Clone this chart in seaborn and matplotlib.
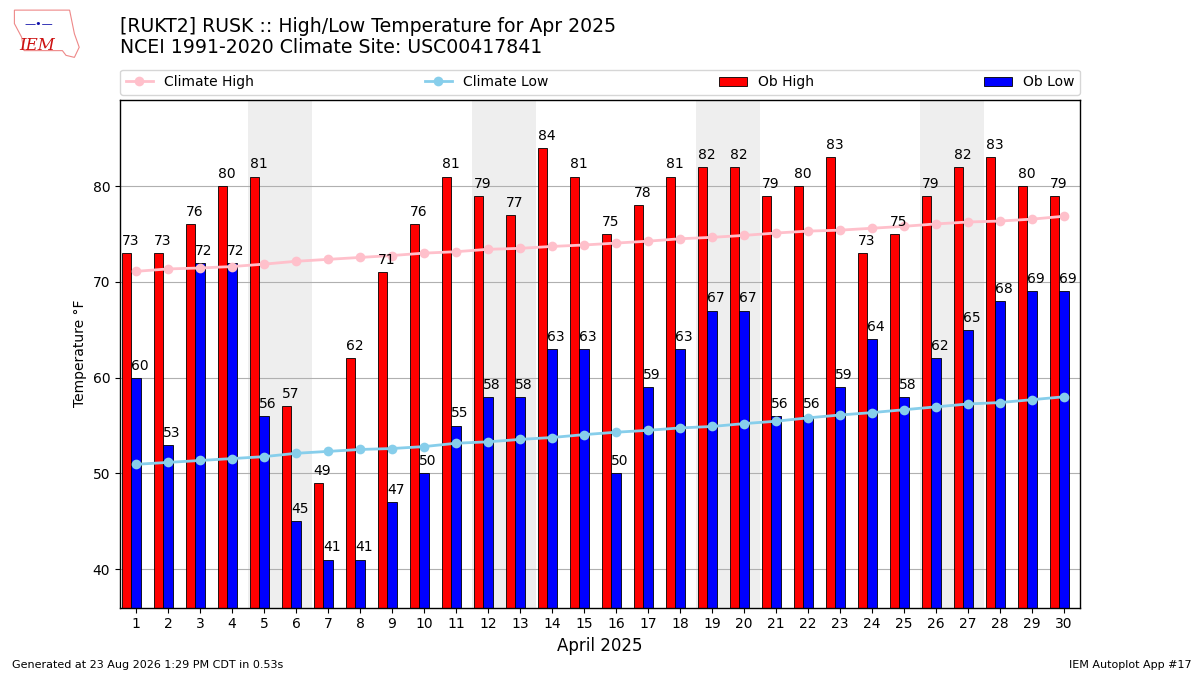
import numpy as np
import pandas as pd
import matplotlib
matplotlib.use("Agg")
import matplotlib.pyplot as plt
from matplotlib.lines import Line2D
from matplotlib.patches import Patch, Polygon
import seaborn as sns

days = list(range(1, 31))
ob_high = [73, 73, 76, 80, 81, 57, 49, 62, 71, 76, 81, 79, 77, 84, 81,
           75, 78, 81, 82, 82, 79, 80, 83, 73, 75, 79, 82, 83, 80, 79]
ob_low = [60, 53, 72, 72, 56, 45, 41, 41, 47, 50, 55, 58, 58, 63, 63,
          50, 59, 63, 67, 67, 56, 56, 59, 64, 58, 62, 65, 68, 69, 69]
clim_high = [71.1, 71.35, 71.45, 71.6, 71.85, 72.15, 72.35, 72.55, 72.75, 73.0,
             73.15, 73.4, 73.5, 73.7, 73.85, 74.05, 74.25, 74.5, 74.65, 74.85,
             75.1, 75.3, 75.4, 75.6, 75.8, 76.05, 76.25, 76.35, 76.55, 76.85]
clim_low = [50.95, 51.15, 51.35, 51.55, 51.75, 52.1, 52.3, 52.5, 52.6, 52.8,
            53.15, 53.3, 53.55, 53.75, 54.05, 54.3, 54.5, 54.75, 54.9, 55.2,
            55.45, 55.8, 56.1, 56.35, 56.65, 56.95, 57.25, 57.4, 57.7, 58.0]
weekend_starts = [5, 12, 19, 26]

title = ("[RUKT2] RUSK :: High/Low Temperature for Apr 2025\n"
         "NCEI 1991-2020 Climate Site: USC00417841")

df = pd.DataFrame({"day": days, "high": ob_high, "low": ob_low,
                   "chigh": clim_high, "clow": clim_low})

fig = plt.figure(figsize=(12, 6.75), dpi=100)
ax = fig.add_axes([0.1, 0.1, 0.8, 0.752])

for d in weekend_starts:
    ax.axvspan(d - 0.5, d + 1.5, color="#eeeeee", zorder=0, lw=0)

bw = 0.3
sns.barplot(x=df["day"] - bw, y=df["high"], native_scale=True, width=bw,
            color="r", edgecolor="k", linewidth=0.6, saturation=1,
            errorbar=None, ax=ax, zorder=2)
sns.barplot(x=df["day"].astype(float), y=df["low"], native_scale=True, width=bw,
            color="b", edgecolor="k", linewidth=0.6, saturation=1,
            errorbar=None, ax=ax, zorder=2)

sns.lineplot(x=df["day"], y=df["chigh"], color="pink", marker="o",
             markersize=7, markeredgewidth=0, linewidth=2, ax=ax, zorder=3)
sns.lineplot(x=df["day"], y=df["clow"], color="skyblue", marker="o",
             markersize=7, markeredgewidth=0, linewidth=2, ax=ax, zorder=3)

for d, h, l in zip(days, ob_high, ob_low):
    ax.text(d - 1.5 * bw, h + 0.85, f"{h}", ha="left", va="baseline",
            fontsize=10, zorder=4)
    ax.text(d - 0.5 * bw, l + 0.85, f"{l}", ha="left", va="baseline",
            fontsize=10, zorder=4)

ax.set_xlim(0.5, 30.5)
ax.set_ylim(min(ob_low) - 5, max(ob_high) + 5)
ax.set_xticks(days)
ax.set_xticklabels([str(d) for d in days])
ax.set_yticks([40, 50, 60, 70, 80])
ax.yaxis.grid(True, color="#b0b0b0", linewidth=0.8)
ax.xaxis.grid(False)
ax.set_axisbelow(True)
ax.set_xlabel("April 2025", fontsize=12)
ax.set_ylabel("Temperature °F", fontsize=10)
for s in ax.spines.values():
    s.set_color("black")
    s.set_linewidth(1.0)

handles = [
    Line2D([], [], color="pink", marker="o", markersize=7, lw=2, mew=0),
    Line2D([], [], color="skyblue", marker="o", markersize=7, lw=2, mew=0),
    Patch(facecolor="r", edgecolor="k", linewidth=0.6),
    Patch(facecolor="b", edgecolor="k", linewidth=0.6),
]
labels = ["Climate High", "Climate Low", "Ob High", "Ob Low"]
ax.legend(handles, labels, loc="lower left", bbox_to_anchor=(0, 1.01, 1, 0.05),
          ncol=4, mode="expand", borderaxespad=0, fontsize=10)

fig.text(0.1, 0.975, title, fontsize=13.6, va="top", ha="left",
         linespacing=1.15)

# IEM logo approximation
logo = Polygon([[0.012, 0.985], [0.058, 0.985], [0.062, 0.95], [0.066, 0.93],
                [0.062, 0.915], [0.055, 0.918], [0.052, 0.925], [0.02, 0.925],
                [0.018, 0.945], [0.012, 0.965]], closed=True, fill=False,
               edgecolor="#ee8888", lw=0.8, transform=fig.transFigure)
fig.patches.append(logo)
fig.text(0.031, 0.933, "IEM", color="#cc1111", fontsize=12, style="italic",
         family="DejaVu Serif", ha="center", va="center")
fig.text(0.032, 0.965, "—•—", color="#1111aa", fontsize=8, ha="center",
         va="center")

fig.text(0.01, 0.008, "Generated at 23 Aug 2026 1:29 PM CDT in 0.53s",
         fontsize=8, ha="left", va="bottom")
fig.text(0.993, 0.008, "IEM Autoplot App #17", fontsize=8, ha="right",
         va="bottom")

fig.savefig("out.png", dpi=100)
